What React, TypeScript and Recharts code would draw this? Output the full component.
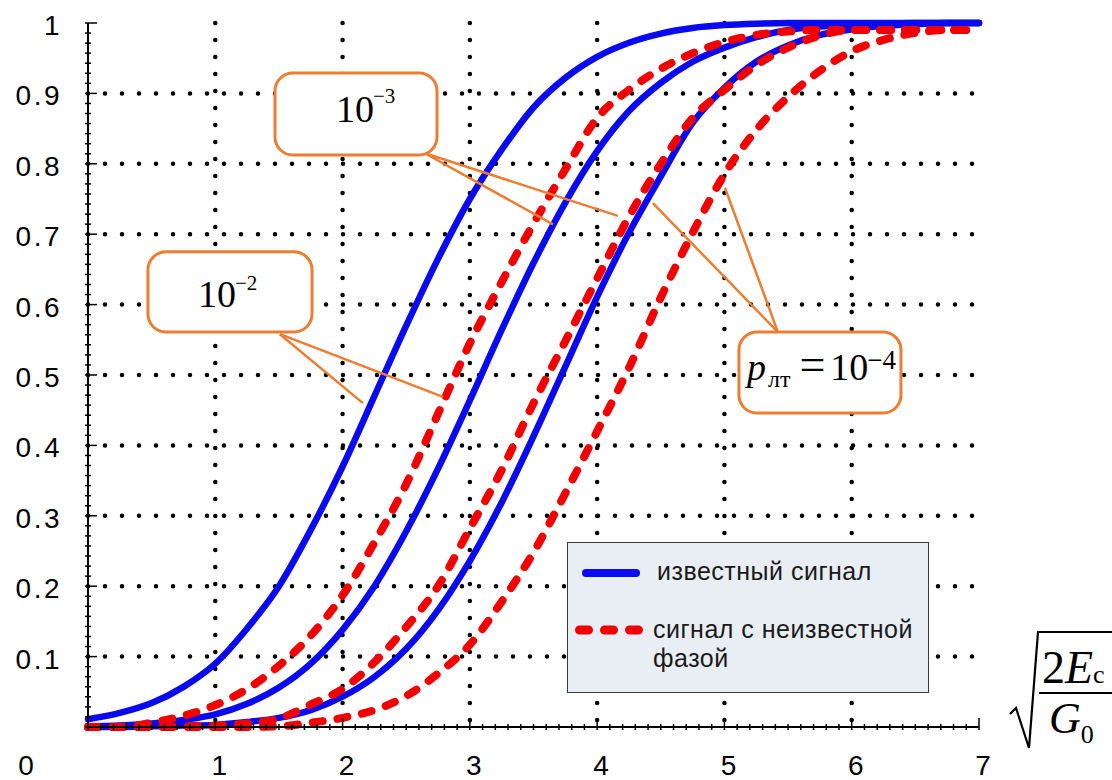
import React from 'react';
import {
  LineChart,
  Line,
  XAxis,
  YAxis,
  CartesianGrid,
  ReferenceLine,
  ReferenceArea,
  Legend,
} from 'recharts';

// ---------- data ----------
const X_VALUES = [0, 0.25, 0.5, 0.75, 1, 1.25, 1.5, 1.75, 2, 2.25, 2.5, 2.75, 3, 3.25, 3.5, 3.75, 4, 4.25, 4.5, 4.75, 5, 5.25, 5.5, 5.75, 6, 6.25, 6.5, 6.75, 7];

const KNOWN_1E2 = [0.011, 0.02, 0.034, 0.057, 0.09, 0.14, 0.2, 0.28, 0.37, 0.47, 0.57, 0.665, 0.75, 0.82, 0.88, 0.922, 0.952, 0.972, 0.985, 0.993, 0.997, 0.999, 1, 1, 1, 1, 1, 1, 1];
const KNOWN_1E3 = [0.001, 0.002, 0.005, 0.01, 0.018, 0.033, 0.056, 0.09, 0.138, 0.2, 0.278, 0.367, 0.464, 0.564, 0.659, 0.745, 0.818, 0.875, 0.915, 0.945, 0.965, 0.98, 0.99, 0.995, 0.998, 0.999, 1, 1, 1];
const KNOWN_1E4 = [0, 0, 0.001, 0.002, 0.003, 0.007, 0.013, 0.024, 0.043, 0.071, 0.111, 0.166, 0.236, 0.319, 0.413, 0.512, 0.611, 0.702, 0.782, 0.858, 0.908, 0.945, 0.968, 0.983, 0.991, 0.996, 0.998, 1, 1];

const UNKNOWN_1E2 = [0, 0, 0.006, 0.016, 0.031, 0.054, 0.087, 0.13, 0.187, 0.262, 0.345, 0.445, 0.545, 0.632, 0.715, 0.792, 0.865, 0.905, 0.935, 0.957, 0.973, 0.983, 0.988, 0.99, 0.99, 0.99, 0.99, 0.99, 0.99];
const UNKNOWN_1E3 = [0, 0, 0, 0.001, 0.002, 0.005, 0.012, 0.032, 0.054, 0.092, 0.142, 0.2, 0.282, 0.365, 0.46, 0.548, 0.637, 0.725, 0.8, 0.865, 0.905, 0.94, 0.965, 0.982, 0.99, 0.99, 0.99, 0.99, 0.99];
const UNKNOWN_1E4 = [0, 0, 0, 0, 0, 0, 0.001, 0.006, 0.013, 0.024, 0.044, 0.076, 0.117, 0.178, 0.248, 0.332, 0.42, 0.51, 0.61, 0.702, 0.785, 0.848, 0.895, 0.932, 0.96, 0.976, 0.986, 0.99, 0.99];

const NAME_KNOWN = 'известный сигнал';
const NAME_UNKNOWN = 'сигнал с неизвестной фазой';

const X_LABELS = [0, 1, 2, 3, 4, 5, 6, 7];
const Y_LABELS = [0.1, 0.2, 0.3, 0.4, 0.5, 0.6, 0.7, 0.8, 0.9, 1];
const X_GRID = [1, 2, 3, 4, 5, 6];
const Y_GRID = [0.1, 0.2, 0.3, 0.4, 0.5, 0.6, 0.7, 0.8, 0.9];

// callout texts
const CALLOUT_TEXTS = [
  { id: 'p2', prefix: '', sub: '', base: '10', exp: '−2' },
  { id: 'p3', prefix: '', sub: '', base: '10', exp: '−3' },
  { id: 'p4', prefix: 'p', sub: 'лт', base: '10', exp: '−4' },
];

// ---------- layout (positions in data coordinates / pixel offsets) ----------
const CALLOUT_LAYOUT: Record<string, any> = {
  p2: {
    box: { x1: 0.471, x2: 1.76, y1: 0.561, y2: 0.675 },
    anchor: { x: 1.508, y: 0.558 },
    targets: [{ x: 2.16, y: 0.46 }, { x: 2.789, y: 0.469 }],
    text: { dx: 50, base: 55, expSize: 21, expDy: -17 },
  },
  p3: {
    box: { x1: 1.469, x2: 2.742, y1: 0.8125, y2: 0.929 },
    anchor: { x: 2.647, y: 0.815 },
    targets: [{ x: 3.653, y: 0.714 }, { x: 4.163, y: 0.726 }],
    text: { dx: 61, base: 49, expSize: 21, expDy: -19 },
  },
  p4: {
    box: { x1: 5.114, x2: 6.387, y1: 0.446, y2: 0.561 },
    anchor: { x: 5.42, y: 0.561 },
    targets: [{ x: 4.438, y: 0.744 }, { x: 5.004, y: 0.766 }],
    text: { dx: 8, base: 48, expSize: 27, expDy: -11 },
  },
};

const X_TICKS = Array.from({ length: 71 }, (_, i) => i / 10);
const Y_TICKS = Array.from({ length: 71 }, (_, i) => i / 70);

const DATA = X_VALUES.map((x, i) => ({
  x,
  k2: KNOWN_1E2[i],
  k3: KNOWN_1E3[i],
  k4: KNOWN_1E4[i],
  u2: UNKNOWN_1E2[i],
  u3: UNKNOWN_1E3[i],
  u4: UNKNOWN_1E4[i],
}));

// ---------- styles ----------
const BLUE = '#0a0af0';
const RED = '#f20000';
const ORANGE = '#ed7d31';
const SANS = "'Liberation Sans', Arial, Helvetica, sans-serif";
const SERIF = "'Liberation Serif', 'Times New Roman', serif";

const isMajorX = (v: number) => Math.abs(v - Math.round(v)) < 1e-6;
const isMajorY = (v: number) => Math.abs(v * 10 - Math.round(v * 10)) < 1e-6;

const BottomTick = (props: any) => {
  const { x, y, payload } = props;
  const v = payload.value;
  const major = isMajorX(v);
  const label = major && X_LABELS.includes(Math.round(v));
  return (
    <g>
      <line x1={x} x2={x} y1={y - (major ? 9 : 3)} y2={y + 3} stroke="#000" strokeWidth={1.5} />
      {label && (
        <text x={v === 0 ? x - 62 : x + 4} y={y + 48} textAnchor="middle" fontSize={28} fontFamily={SANS} fill="#000">
          {String(Math.round(v))}
        </text>
      )}
    </g>
  );
};

const TopTick = (props: any) => {
  const { x, y, payload } = props;
  const major = isMajorX(payload.value);
  return <line x1={x} x2={x} y1={y - 3} y2={y + (major ? 9 : 3)} stroke="#000" strokeWidth={1.5} />;
};

const LeftTick = (props: any) => {
  const { x, y, payload } = props;
  const v = payload.value;
  const major = isMajorY(v);
  const label = major && Y_LABELS.some((l) => Math.abs(l - v) < 1e-6);
  return (
    <g>
      <line x1={x - 3} x2={x + (major ? 9 : 3)} y1={y} y2={y} stroke="#000" strokeWidth={1.5} />
      {label && (
        <text x={x - 26} y={y + 12} textAnchor="end" fontSize={28} letterSpacing={2.5} fontFamily={SANS} fill="#000">
          {Math.abs(v - 1) < 1e-6 ? '1' : v.toFixed(1)}
        </text>
      )}
    </g>
  );
};

const RightTick = (props: any) => {
  const { x, y, payload } = props;
  const major = isMajorY(payload.value);
  return <line x1={x - (major ? 9 : 3)} x2={x + 3} y1={y} y2={y} stroke="#000" strokeWidth={1.5} />;
};

const AxisTitle = (props: any) => {
  const vb = props.viewBox || { x: 88, y: 727, width: 891, height: 40 };
  const R = vb.x + vb.width;
  const T = vb.y;
  return (
    <g fill="#000" fontFamily={SERIF}>
      <path
        d={`M${R + 31},${T - 13} L${R + 37},${T - 19} L${R + 50},${T + 21} L${R + 59},${T - 95} L${R + 140},${T - 95}`}
        fill="none"
        stroke="#000"
        strokeWidth={2.2}
        strokeLinejoin="miter"
      />
      <line x1={R + 60} x2={R + 140} y1={T - 34} y2={T - 34} stroke="#000" strokeWidth={2} />
      <text x={R + 63} y={T - 44} fontSize={46}>
        2<tspan fontStyle="italic">E</tspan>
        <tspan fontSize={26}>c</tspan>
      </text>
      <text x={R + 70} y={T + 6} fontSize={44} fontStyle="italic">
        G
        <tspan fontStyle="normal" fontSize={26} dy={10}>
          0
        </tspan>
      </text>
    </g>
  );
};

const wrapText = (s: string, max: number) => {
  if (s.length <= max) return [s];
  const cut = s.lastIndexOf(' ', max);
  return [s.slice(0, cut), s.slice(cut + 1)];
};

const LegendBox = (props: any) => {
  const items = (props.payload || []).filter((p: any) => p.type !== 'none');
  return (
    <svg width={362} height={151} style={{ display: 'block' }}>
      <rect x={0.5} y={0.5} width={361} height={150} fill="#e9edf4" stroke="#3a3a3a" strokeWidth={1} />
      {items.map((item: any, i: number) => {
        const dashed = !!(item.payload && item.payload.strokeDasharray);
        const cy = i === 0 ? 31 : 88;
        const tx = i === 0 ? 90 : 86;
        const base = i === 0 ? 38 : 96;
        const lines = wrapText(String(item.value), 20);
        return (
          <g key={i}>
            <line
              x1={dashed ? 12.5 : 19}
              x2={dashed ? 76 : 69}
              y1={cy}
              y2={cy}
              stroke={item.color}
              strokeWidth={dashed ? 9 : 8}
              strokeLinecap="round"
              strokeDasharray={dashed ? '9 16' : undefined}
            />
            <text x={tx} y={base} fontSize={25} letterSpacing={0.5} fontFamily={SANS} fill="#1a1a1a">
              {lines.map((l, j) => (
                <tspan key={j} x={tx} dy={j === 0 ? 0 : 29}>
                  {l}
                </tspan>
              ))}
            </text>
          </g>
        );
      })}
    </svg>
  );
};

const CalloutText = ({ c, x, y }: any) => {
  const t = CALLOUT_LAYOUT[c.id].text;
  return (
    <text x={x + t.dx} y={y + t.base} fontFamily={SERIF} fontSize={38} fill="#000">
      {c.prefix ? <tspan fontStyle="italic">{c.prefix}</tspan> : null}
      {c.sub ? (
        <tspan fontSize={24} dy={7} dx={2}>
          {c.sub}
        </tspan>
      ) : null}
      {c.prefix ? (
        <tspan fontSize={46} dy={-7} dx={9}>
          =
        </tspan>
      ) : null}
      <tspan dx={c.prefix ? 5 : 0}>{c.base}</tspan>
      <tspan fontSize={t.expSize} dy={t.expDy} dx={-1}>
        {c.exp}
      </tspan>
    </text>
  );
};

export default function App() {
  return (
    <div style={{ position: 'absolute', left: 0, top: 0, width: 1112, height: 780, background: '#fff' }}>
      <LineChart width={1112} height={780} data={DATA} margin={{ top: 23, right: 133, bottom: 13, left: 8 }}>
        <CartesianGrid
          horizontalValues={Y_GRID}
          verticalValues={X_GRID}
          stroke="#000"
          strokeWidth={4.5}
          strokeDasharray="0 17"
          strokeLinecap="round"
        />
        <XAxis
          dataKey="x"
          type="number"
          domain={[0, 7]}
          ticks={X_TICKS}
          interval={0}
          height={40}
          tickSize={0}
          tickMargin={0}
          tickLine={false}
          tick={<BottomTick />}
          axisLine={{ stroke: '#000', strokeWidth: 2 }}
          label={<AxisTitle />}
        />
        <XAxis
          xAxisId="top"
          orientation="top"
          dataKey="x"
          type="number"
          domain={[0, 7]}
          ticks={X_TICKS}
          interval={0}
          height={0}
          tickSize={0}
          tickMargin={0}
          tickLine={false}
          tick={<TopTick />}
          axisLine={{ stroke: '#000', strokeWidth: 2 }}
        />
        <YAxis
          type="number"
          domain={[0, 1]}
          ticks={Y_TICKS}
          interval={0}
          width={80}
          tickSize={0}
          tickMargin={0}
          tickLine={false}
          tick={<LeftTick />}
          axisLine={{ stroke: '#000', strokeWidth: 2 }}
        />
        <YAxis
          yAxisId="right"
          orientation="right"
          type="number"
          domain={[0, 1]}
          ticks={Y_TICKS}
          interval={0}
          width={0}
          tickSize={0}
          tickMargin={0}
          tickLine={false}
          tick={<RightTick />}
          axisLine={{ stroke: '#000', strokeWidth: 2 }}
        />

        <Line type="monotone" dataKey="k2" name={NAME_KNOWN} legendType="line" stroke={BLUE} strokeWidth={6.5} strokeLinecap="round" strokeLinejoin="round" dot={false} activeDot={false} isAnimationActive={false} />
        <Line type="monotone" dataKey="k3" name={NAME_KNOWN + ' 1e-3'} legendType="none" stroke={BLUE} strokeWidth={6.5} strokeLinecap="round" strokeLinejoin="round" dot={false} activeDot={false} isAnimationActive={false} />
        <Line type="monotone" dataKey="k4" name={NAME_KNOWN + ' 1e-4'} legendType="none" stroke={BLUE} strokeWidth={6.5} strokeLinecap="round" strokeLinejoin="round" dot={false} activeDot={false} isAnimationActive={false} />
        <Line type="monotone" dataKey="u2" name={NAME_UNKNOWN} legendType="line" stroke={RED} strokeWidth={8} strokeDasharray="10 15" strokeLinecap="round" strokeLinejoin="round" dot={false} activeDot={false} isAnimationActive={false} />
        <Line type="monotone" dataKey="u3" name={NAME_UNKNOWN + ' 1e-3'} legendType="none" stroke={RED} strokeWidth={8} strokeDasharray="10 15" strokeLinecap="round" strokeLinejoin="round" dot={false} activeDot={false} isAnimationActive={false} />
        <Line type="monotone" dataKey="u4" name={NAME_UNKNOWN + ' 1e-4'} legendType="none" stroke={RED} strokeWidth={8} strokeDasharray="10 15" strokeLinecap="round" strokeLinejoin="round" dot={false} activeDot={false} isAnimationActive={false} />

        {CALLOUT_TEXTS.map((c) =>
          CALLOUT_LAYOUT[c.id].targets.map((t: any, j: number) => (
            <ReferenceLine
              key={c.id + '-l' + j}
              segment={[CALLOUT_LAYOUT[c.id].anchor, t]}
              stroke={ORANGE}
              strokeWidth={2.5}
              ifOverflow="visible"
            />
          ))
        )}
        {CALLOUT_TEXTS.map((c) => {
          const b = CALLOUT_LAYOUT[c.id].box;
          return (
            <ReferenceArea
              key={c.id}
              x1={b.x1}
              x2={b.x2}
              y1={b.y1}
              y2={b.y2}
              ifOverflow="visible"
              shape={(p: any) => (
                <g>
                  <rect x={p.x} y={p.y} width={p.width} height={p.height} rx={18} ry={18} fill="#fff" stroke={ORANGE} strokeWidth={3} />
                  <CalloutText c={c} x={p.x} y={p.y} />
                </g>
              )}
            />
          );
        })}

        <Legend
          layout="horizontal"
          verticalAlign="middle"
          align="center"
          content={<LegendBox />}
          wrapperStyle={{ position: 'absolute', left: 567, top: 542, width: 362, height: 151 }}
        />
      </LineChart>
    </div>
  );
}
